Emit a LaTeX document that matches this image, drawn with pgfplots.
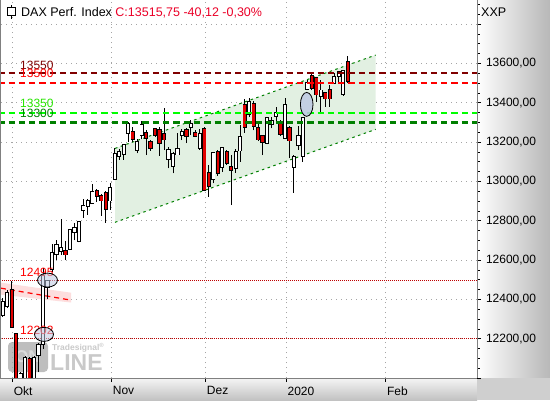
\documentclass[border=0pt]{standalone}
\usepackage{fontspec}
\setmainfont{Liberation Sans}
\usepackage{pgfplots}
\pgfplotsset{compat=1.18}
\usepackage{pgfplotstable}

\definecolor{chfill}{RGB}{226,240,226}
\definecolor{chline}{RGB}{0,128,0}
\definecolor{bandfill}{RGB}{253,222,222}
\definecolor{dnred}{RGB}{225,0,0}
\definecolor{resdark}{RGB}{128,0,0}
\definecolor{resred}{RGB}{255,0,0}
\definecolor{suplime}{RGB}{0,255,0}
\definecolor{supgreen}{RGB}{0,128,0}
\definecolor{ellfill}{RGB}{190,202,226}
\definecolor{titlered}{RGB}{235,0,40}
\definecolor{gridgray}{RGB}{165,165,165}
\definecolor{bordergray}{RGB}{128,128,128}
\definecolor{dotred}{RGB}{190,0,0}

% rising candles: x = trading-day index (0 = 1 Oct 2019), open, high, low, close
\pgfplotstableread{
x o h l c
-2 12325 12405 12310 12381
-1 12372 12450 12355 12428
2 11960 12030 11920 12013
3 11990 12110 11980 12097
5 11995 12110 11960 12094
6 12125 12180 12030 12164
7 12177 12560 12150 12511
8 12470 12500 12400 12487
9 12560 12680 12540 12630
10 12637 12700 12600 12670
11 12650 12810 12625 12655
13 12660 12760 12650 12748
14 12750 12790 12700 12755
15 12705 12800 12690 12790
16 12860 12910 12815 12870
17 12882 12910 12830 12894
18 12895 12985 12890 12940
22 12909 12990 12855 12960
23 13016 13168 13007 13134
24 13134 13165 13110 13146
25 13146 13190 13110 13180
26 13253 13300 13200 13287
28 13168 13214 13143 13197
29 13240 13306 13214 13282
35 13122 13176 13066 13155
36 13083 13151 13041 13134
37 13143 13245 13134 13160
38 13243 13265 13210 13246
40 13285 13312 13236 13288
42 13176 13268 13160 13236
45 13020 13150 12990 13139
47 13078 13175 13050 13163
50 13072 13165 13045 13143
51 13163 13287 13100 13219
53 13350 13425 13330 13400
57 13202 13330 13190 13316
58 13297 13330 13270 13301
59 13339 13377 13304 13343
61 13227 13423 13219 13384
63 13080 13134 12942 13120
64 13190 13282 13160 13224
65 13134 13326 13100 13317
66 13474 13515 13465 13496
69 13440 13516 13355 13457
72 13508 13553 13496 13525
73 13540 13562 13500 13550
74 13451 13567 13435 13555
}\upc

% falling candles
\pgfplotstableread{
x o h l c
0 12440 12494 12260 12264
1 12220 12230 11900 11925
4 12090 12105 11950 11970
12 12640 12695 12600 12634
19 12944 12960 12895 12932
20 12922 12935 12825 12909
21 12934 12952 12790 12864
27 13246 13278 13202 13224
30 13241 13261 13134 13227
31 13194 13211 13155 13176
32 13261 13270 13225 13240
33 13256 13278 13130 13202
34 13236 13372 13160 13219
39 13256 13270 13195 13236
41 13242 13260 13225 13239
43 13261 13275 12950 12960
44 13037 13083 12922 12982
46 13146 13160 13030 13049
48 13143 13160 13085 13100
49 13068 13134 12880 13064
52 13384 13418 13248 13282
54 13389 13410 13260 13287
55 13265 13290 13205 13219
56 13224 13236 13134 13207
60 13299 13310 13230 13245
62 13265 13282 13117 13214
67 13530 13550 13465 13479
68 13520 13533 13406 13448
70 13445 13456 13380 13428
71 13460 13490 13380 13428
75 13600 13638 13502 13516
}\dnc

\pgfplotsset{
  errbase/.style={only marks, mark=none, mark size=0pt,
    mark options={draw opacity=0, fill opacity=0},
    error bars/.cd, y dir=plus, y explicit, error mark=none},
}
\tikzset{lvl/.style={anchor=base west, inner sep=0pt, font=\fontsize{12}{14}\selectfont}}

\begin{document}
\begin{tikzpicture}[x=1pt,y=1pt]
\useasboundingbox (0,0) rectangle (550,400);
% panels
\fill[white] (0,22) rectangle (477,400);
\shade[left color=white, right color=black!28] (477,22) rectangle (550,400);
\shade[top color=black!4, bottom color=black!24] (0,0) rectangle (477,22);
\fill[black!19] (477,0) rectangle (550,22);

% watermark
\begin{scope}[opacity=0.42]
\fill[black!60, rounded corners=4pt] (8,28) rectangle (48,58);
\node[white, font=\bfseries\fontsize{17}{17}\selectfont, inner sep=0pt] at (28,43) {ON};
\node[black!50, font=\bfseries\fontsize{23}{23}\selectfont, anchor=base west, inner sep=0pt] at (50,30) {LINE};
\node[black!50, font=\bfseries\fontsize{8.5}{9}\selectfont, anchor=base west, inner sep=0pt] at (52,50) {Tradesignal\textsuperscript{®}};
\end{scope}

\begin{axis}[
  at={(1pt,22pt)}, anchor=south west,
  scale only axis, width=476pt, height=378pt,
  xmin=-2.39, xmax=103.86, ymin=12000, ymax=13923,
  axis line style={draw=none},
  xtick={0.1,22.2,43.2,61.2,83.4},
  xticklabels={Okt,Nov,Dez,2020,Feb},
  xtick pos=bottom,
  ytick={12200,12400,...,13600},
  extra y ticks={12000,13800},
  extra y tick labels={},
  extra y tick style={grid=major},
  minor ytick={12050,12100,...,13900},
  ytick pos=right, yticklabel pos=right,
  scaled y ticks=false,
  xmajorgrids, ymajorgrids,
  major grid style={gridgray, line width=0.7pt, dash pattern=on 0.8pt off 4.2pt},
  tick align=outside,
  major tick length=4pt, minor tick length=2.5pt,
  every tick/.style={black, line width=0.7pt},
  tick label style={font=\fontsize{12}{14}\selectfont},
  yticklabel style={anchor=west, xshift=1.5pt},
  xticklabel style={anchor=north west, inner sep=0pt, xshift=1.5pt, yshift=-4.5pt},
  /pgf/number format/fixed,
  /pgf/number format/fixed zerofill,
  /pgf/number format/precision=2,
  /pgf/number format/use comma,
  /pgf/number format/1000 sep={},
  /pgf/number format/assume math mode=true,
]

% rising channel
\addplot[fill=chfill, draw=none] coordinates {(23.06,12792) (23.06,13168) (81.25,13643) (81.25,13265)} -- cycle;
\addplot[chline, line width=1pt, dash pattern=on 2.5pt off 3.5pt] coordinates {(23.06,13168) (81.25,13643)};
\addplot[chline, line width=1pt, dash pattern=on 2.5pt off 3.5pt] coordinates {(23.06,12792) (81.25,13265)};

% falling band
\addplot[fill=bandfill, draw=none] coordinates {(-2.4,12485) (13.24,12434) (13.24,12384) (-2.4,12424)} -- cycle;
\addplot[red, line width=1.2pt, dash pattern=on 5pt off 4pt] coordinates {(-2.4,12457) (13.24,12396)};

% dotted levels
\addplot[dotred, line width=0.8pt, dash pattern=on 1pt off 1pt] coordinates {(-3,12495) (110,12495)};
\addplot[dotred, line width=0.8pt, dash pattern=on 1pt off 1pt] coordinates {(-3,12202) (110,12202)};

% candles: wicks
\addplot[black, errbase, error bar style={black, line width=0.9pt}]
  table[x=x, y=l, y error plus expr=\thisrow{h}-\thisrow{l}] {\upc};
\addplot[black, errbase, error bar style={black, line width=0.9pt}]
  table[x=x, y=l, y error plus expr=\thisrow{h}-\thisrow{l}] {\dnc};
% candles: body outline
\addplot[black, errbase, error bar style={black, line width=4.2pt, line cap=rect}]
  table[x=x, y=o, y error plus expr=\thisrow{c}-\thisrow{o}] {\upc};
\addplot[black, errbase, error bar style={black, line width=4.2pt, line cap=rect}]
  table[x=x, y=c, y error plus expr=\thisrow{o}-\thisrow{c}] {\dnc};
% candles: body fill
\addplot[white, errbase, error bar style={white, line width=2.4pt, line cap=rect}]
  table[x=x, y=o, y error plus expr=\thisrow{c}-\thisrow{o}] {\upc};
\addplot[dnred, errbase, error bar style={dnred, line width=2.4pt, line cap=rect}]
  table[x=x, y=c, y error plus expr=\thisrow{o}-\thisrow{c}] {\dnc};

% horizontal resistance / support lines
\addplot[resdark, line width=2.2pt, dash pattern=on 6.3pt off 4pt] coordinates {(-3,13550) (110,13550)};
\addplot[resred, line width=2.2pt, dash pattern=on 6.3pt off 4pt] coordinates {(-3,13500) (110,13500)};
\addplot[suplime, line width=2.2pt, dash pattern=on 6.3pt off 4pt] coordinates {(-3,13350) (110,13350)};
\addplot[supgreen, line width=2.2pt, dash pattern=on 6.3pt off 4pt] coordinates {(-3,13300) (110,13300)};

% level labels
\node[lvl, text=resdark, yshift=4pt] at (axis cs:1.85,13550) {13550};
\node[lvl, text=resred, yshift=5.5pt] at (axis cs:1.85,13500) {13500};
\node[lvl, text={rgb,255:red,40;green,230;blue,0}, yshift=5pt] at (axis cs:1.85,13350) {13350};
\node[lvl, text=supgreen, yshift=5pt] at (axis cs:1.85,13300) {13300};
\node[lvl, text=resred, yshift=4pt] at (axis cs:1.85,12495) {12495};
\node[lvl, text=resred, yshift=3.5pt] at (axis cs:1.85,12202) {12202};

% marked zones
\addplot[only marks, mark=*, mark size=6.3pt, mark options={yscale=1.9, fill=ellfill, draw=black, line width=0.8pt, fill opacity=0.85}] coordinates {(65.85,13392)};
\addplot[only marks, mark=*, mark size=10pt, mark options={yscale=0.7, fill=ellfill, draw=black, line width=0.8pt, fill opacity=0.55}] coordinates {(7.99,12498)};
\addplot[only marks, mark=*, mark size=9.5pt, mark options={yscale=0.74, fill=ellfill, draw=black, line width=0.8pt, fill opacity=0.55}] coordinates {(7.21,12222)};
\end{axis}

% borders
\draw[bordergray, line width=1pt] (0.5,22) -- (0.5,400);
\draw[bordergray, line width=1pt] (0,22) -- (477,22);
\draw[bordergray, line width=1pt] (477,22) -- (477,400);

% title
\draw[black, line width=0.8pt, fill=white] (7.7,384.2) rectangle (15.8,392.3);
\draw[black, line width=0.8pt] (11.75,392.3) -- (11.75,394.7) (11.75,384.2) -- (11.75,380.7);
\node[anchor=west, inner sep=0pt, font=\fontsize{12.5}{14}\selectfont] at (21,387.3)
  {DAX Perf. Index \textcolor{titlered}{C:13515,75 -40,12 -0,30\%}};
\node[anchor=west, inner sep=0pt, font=\fontsize{12.5}{14}\selectfont] at (481,387.3) {XXP};
\end{tikzpicture}
\end{document}
